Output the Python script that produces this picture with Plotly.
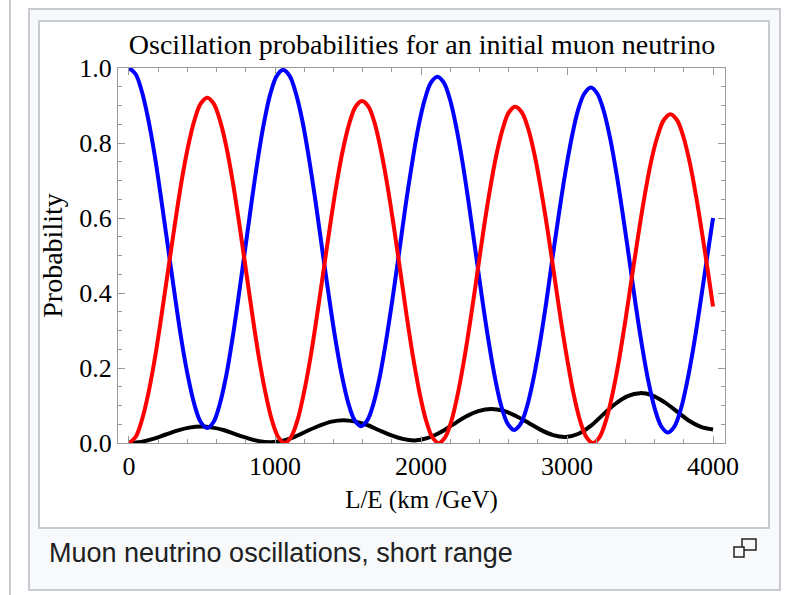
import plotly.graph_objects as go

# Oscillation probabilities vs L/E for a neutrino produced as a muon neutrino
# nu_mu survival (blue)
le_mu = [0, 45, 89, 134, 179, 223, 268, 313, 357, 402, 447, 491, 536,
         579, 622, 666, 709, 752, 796, 839, 882, 925, 968, 1012, 1055,
         1100, 1144, 1189, 1233, 1278, 1322, 1367, 1411, 1456, 1500, 1545, 1589,
         1633, 1676, 1720, 1763, 1807, 1851, 1894, 1938, 1981, 2025, 2068, 2112,
         2156, 2200, 2243, 2287, 2331, 2375, 2419, 2463, 2507, 2550, 2594, 2638,
         2682, 2725, 2769, 2813, 2857, 2900, 2944, 2988, 3032, 3075, 3119, 3163,
         3207, 3251, 3295, 3339, 3383, 3427, 3470, 3514, 3558, 3602, 3646, 3690,
         3734, 3778, 3821, 3865, 3909, 3953, 4000]
p_mu = [1.000, 0.984, 0.936, 0.859, 0.760, 0.644, 0.520, 0.396, 0.280, 0.181, 0.104, 0.056, 0.040,
        0.056, 0.104, 0.180, 0.279, 0.394, 0.518, 0.641, 0.756, 0.855, 0.931, 0.979, 0.995,
        0.979, 0.931, 0.856, 0.758, 0.643, 0.520, 0.397, 0.283, 0.184, 0.109, 0.061, 0.045,
        0.061, 0.107, 0.182, 0.278, 0.390, 0.511, 0.632, 0.744, 0.841, 0.915, 0.961, 0.977,
        0.961, 0.914, 0.839, 0.742, 0.628, 0.506, 0.384, 0.271, 0.173, 0.098, 0.051, 0.035,
        0.051, 0.096, 0.169, 0.263, 0.373, 0.492, 0.610, 0.720, 0.814, 0.887, 0.932, 0.948,
        0.932, 0.886, 0.813, 0.718, 0.607, 0.488, 0.369, 0.258, 0.163, 0.090, 0.044, 0.028,
        0.043, 0.088, 0.160, 0.253, 0.362, 0.478, 0.600]

# nu_mu -> nu_tau (red)
le_tau = [0, 45, 89, 134, 179, 223, 268, 313, 357, 402, 447, 491, 536,
          580, 624, 669, 713, 757, 801, 845, 889, 934, 978, 1022, 1066,
          1110, 1154, 1198, 1243, 1287, 1331, 1375, 1419, 1463, 1508, 1552, 1596,
          1640, 1684, 1727, 1771, 1815, 1859, 1902, 1946, 1990, 2034, 2077, 2121,
          2165, 2209, 2252, 2296, 2340, 2384, 2427, 2471, 2515, 2559, 2602, 2646,
          2690, 2735, 2779, 2823, 2868, 2912, 2956, 3001, 3045, 3089, 3134, 3178,
          3222, 3266, 3310, 3355, 3399, 3443, 3487, 3531, 3575, 3620, 3664, 3708,
          3752, 3796, 3840, 3884, 3928, 3972, 4000]
p_tau = [0.000, 0.016, 0.062, 0.135, 0.230, 0.341, 0.461, 0.580, 0.691, 0.786, 0.859, 0.905, 0.921,
         0.905, 0.859, 0.786, 0.691, 0.580, 0.461, 0.341, 0.230, 0.135, 0.062, 0.016, 0.000,
         0.016, 0.061, 0.134, 0.228, 0.338, 0.456, 0.574, 0.684, 0.778, 0.851, 0.897, 0.912,
         0.897, 0.851, 0.778, 0.684, 0.574, 0.456, 0.338, 0.228, 0.134, 0.061, 0.016, 0.000,
         0.015, 0.060, 0.131, 0.224, 0.332, 0.449, 0.565, 0.673, 0.766, 0.837, 0.882, 0.897,
         0.882, 0.837, 0.766, 0.673, 0.565, 0.449, 0.332, 0.224, 0.131, 0.060, 0.015, 0.000,
         0.015, 0.059, 0.128, 0.219, 0.325, 0.439, 0.552, 0.658, 0.749, 0.818, 0.862, 0.877,
         0.862, 0.818, 0.749, 0.658, 0.552, 0.439, 0.364]

# nu_mu -> nu_e (black)
le_e = [0, 41, 82, 165, 248, 330, 412, 495, 574, 653, 732, 812, 891, 970, 1053, 1137, 1220,
        1303, 1387, 1470, 1551, 1632, 1713, 1793, 1874, 1955, 2043, 2130, 2218, 2305, 2393,
        2480, 2565, 2650, 2735, 2820, 2905, 2990, 3075, 3160, 3245, 3330, 3415, 3500, 3583,
        3667, 3750, 3833, 3917, 4000]
p_e = [0.000, 0.001, 0.003, 0.011, 0.022, 0.033, 0.041, 0.044, 0.041, 0.034, 0.023, 0.013,
       0.005, 0.002, 0.006, 0.017, 0.032, 0.046, 0.057, 0.061, 0.057, 0.048, 0.034, 0.021,
       0.011, 0.007, 0.013, 0.028, 0.049, 0.070, 0.085, 0.091, 0.086, 0.072, 0.054, 0.035,
       0.021, 0.016, 0.024, 0.045, 0.075, 0.104, 0.125, 0.133, 0.127, 0.109, 0.085, 0.060,
       0.043, 0.036]

x_ticks = [0, 1000, 2000, 3000, 4000]
y_ticks = [0.0, 0.2, 0.4, 0.6, 0.8, 1.0]

TITLE = "Oscillation probabilities for an initial muon neutrino"
CAPTION = "Muon neutrino oscillations, short range"

W, H = 804, 595
L, R, T, B = 118, 725, 68, 443  # plot-area edges in page pixels


def px(x):
    return (x - L) / (R - L)


def py(y):
    return (B - y) / (B - T)


fig = go.Figure()
for xs, ys, col in [(le_e, p_e, "#000000"), (le_mu, p_mu, "#0000ff"), (le_tau, p_tau, "#ff0000")]:
    fig.add_trace(go.Scatter(x=xs, y=ys, mode="lines",
                             line=dict(color=col, width=4, shape="spline", smoothing=1),
                             hoverinfo="skip", showlegend=False))

serif = "Liberation Serif, Times New Roman, serif"
axis_common = dict(
    showgrid=False, zeroline=False, showline=True, linecolor="#9a9a9a", linewidth=1,
    mirror="ticks", ticks="inside", ticklen=7, tickcolor="#9a9a9a", tickwidth=1,
    tickfont=dict(family=serif, size=26, color="#000"),
)

fig.update_xaxes(range=[-75.3, 4082], tickvals=x_ticks,
                 ticktext=[str(v) for v in x_ticks],
                 minor=dict(dtick=200, ticks="inside", ticklen=4, tickcolor="#9a9a9a", showgrid=False),
                 title=dict(text="L/E (km /GeV)", font=dict(family=serif, size=25, color="#000"), standoff=10),
                 **axis_common)
fig.update_yaxes(range=[0, 1.0], tickvals=y_ticks,
                 ticktext=[f"{v:.1f}" for v in y_ticks],
                 minor=dict(dtick=0.05, ticks="inside", ticklen=4, tickcolor="#9a9a9a", showgrid=False),
                 title=dict(text="Probability", font=dict(family=serif, size=28, color="#000"), standoff=8),
                 **axis_common)

shapes = [
    # thin page rule on the left
    dict(type="line", x0=px(10), x1=px(10), y0=py(0), y1=py(H), line=dict(color="#c8ccd1", width=2)),
    # thumbnail frame
    dict(type="rect", x0=px(29), x1=px(780), y0=py(9), y1=py(590),
         fillcolor="#f8f9fa", line=dict(color="#c8ccd1", width=2)),
    # image box
    dict(type="rect", x0=px(39), x1=px(769), y0=py(21), y1=py(528),
         fillcolor="#ffffff", line=dict(color="#c8ccd1", width=2)),
    # enlarge icon
    dict(type="rect", x0=px(742), x1=px(756), y0=py(539), y1=py(550),
         line=dict(color="#222", width=1.5), fillcolor="rgba(0,0,0,0)"),
    dict(type="rect", x0=px(734), x1=px(744), y0=py(547), y1=py(557),
         line=dict(color="#222", width=1.5), fillcolor="#f8f9fa"),
]
for s in shapes:
    s.update(xref="paper", yref="paper", layer="below")
# icon outlines sit above the frame fills
shapes[3]["layer"] = "above"
shapes[4]["layer"] = "above"

fig.update_layout(
    width=W, height=H,
    margin=dict(l=L, r=W - R, t=T, b=H - B, pad=0),
    paper_bgcolor="#ffffff", plot_bgcolor="rgba(0,0,0,0)",
    title=dict(text=TITLE, font=dict(family=serif, size=28, color="#000"),
               x=px(422), xref="paper", xanchor="center",
               y=1 - 44 / H, yref="container", yanchor="middle"),
    shapes=shapes,
    annotations=[dict(text=CAPTION, x=px(47), y=py(553), xref="paper", yref="paper",
                      xanchor="left", yanchor="middle", showarrow=False,
                      font=dict(family="Liberation Sans, Arial, sans-serif", size=27, color="#202122"))],
)

fig.write_html("out.html")
